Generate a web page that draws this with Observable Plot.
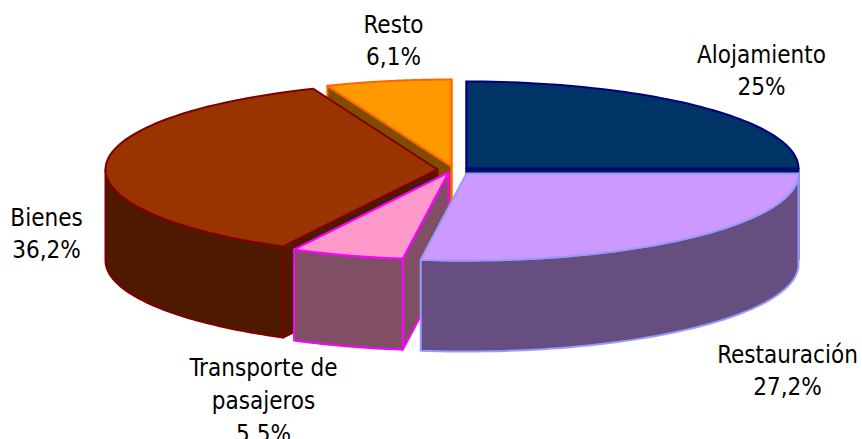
<!DOCTYPE html>
<html><head><meta charset="utf-8">
<script src="https://cdn.jsdelivr.net/npm/d3@7"></script>
<script src="https://cdn.jsdelivr.net/npm/@observablehq/plot@0.6"></script>
<style>html,body{margin:0;padding:0;background:#fff;overflow:hidden}svg{display:block}svg text{font-stretch:condensed}</style>
</head><body><div id="chart"></div>
<script>
// data
const categories = ["Alojamiento","Restauración","Transporte de\npasajeros","Bienes","Resto"];
const shares = [25, 27.2, 5.5, 36.2, 6.1];
// styles
const topColors = ["#003366","#CC99FF","#FF99CC","#993300","#FF9900"];
const wallColors = ["#00194d","#664f80","#804f66","#4d1a00","#804d00"];
const edgeColors = ["#000080","#9999FF","#FF00FF","#800000","#FF6600"];
// layout of the exploded slices and label anchors
const apexX = [466,466,448,437,451];
const apexY = [168,173,172,169,166];
const labelX = [761,787,263,46,393];
const labelY = [68,368,398,231,38];
const rx = 332, ry = 87, depth = 91;
const drawOrder = [4,0,3,2,1];

const total = d3.sum(shares);
const fmt = v => String(v).replace(".",",") + "%";
const cum = d3.cumsum(shares);
const startAngle = i => (i ? cum[i-1] : 0) / total * 2 * Math.PI;
const endAngle = i => cum[i] / total * 2 * Math.PI;
const rim = (i,a,dy=0) => ({x: apexX[i] + rx*Math.sin(a), y: apexY[i] - ry*Math.cos(a) + dy});
const arc = (i,a0,a1,dy=0) => d3.range(0,61).map(k => rim(i,a0+(a1-a0)*k/60,dy));

function sliceMarks(i){
  const a0 = startAngle(i), a1 = endAngle(i);
  const apex = {x:apexX[i], y:apexY[i]}, apexLow = {x:apexX[i], y:apexY[i]+depth};
  const faces = [];
  const cut = a => [apex, rim(i,a), rim(i,a,depth), apexLow];
  // cut faces that look towards the viewer (edge-on ones give a vertical line)
  if (-Math.sin(a0) > -1e-6) faces.push(cut(a0));
  if (Math.sin(a1) > -1e-6) faces.push(cut(a1));
  // curved wall: front half of the ellipse only
  const f0 = Math.max(a0, Math.PI/2), f1 = Math.min(a1, 3*Math.PI/2);
  if (f1 > f0) faces.push([...arc(i,f0,f1), ...arc(i,f1,f0,depth)]);
  const marks = faces.map(pts => Plot.line(pts, {x:"x", y:"y", curve:"linear-closed",
    fill:wallColors[i], stroke:edgeColors[i], strokeWidth:2}));
  marks.push(Plot.line([apex, ...arc(i,a0,a1)], {x:"x", y:"y", curve:"linear-closed",
    fill:topColors[i], stroke:edgeColors[i], strokeWidth:2}));
  return marks;
}

const labels = categories.map((c,i)=>({text:c+"\n"+fmt(shares[i]), x:labelX[i], y:labelY[i]}));
const chart = Plot.plot({
  width:862, height:439, margin:0,
  x:{type:"identity", axis:null}, y:{type:"identity", axis:null},
  style:{background:"#fff"},
  marks:[
    ...drawOrder.flatMap(sliceMarks),
    Plot.text(labels,{x:"x",y:"y",text:"text",fill:"#000",textAnchor:"middle",lineAnchor:"middle",lineHeight:1.37,
      fontSize:24,fontFamily:"'DejaVu Sans'"})
  ]
});
document.getElementById("chart").append(chart);
</script></body></html>
